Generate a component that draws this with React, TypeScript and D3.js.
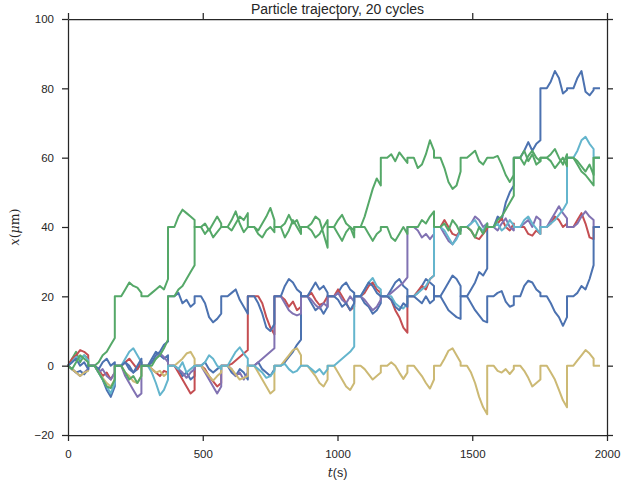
import React, { useEffect, useRef } from "react";
import * as d3 from "d3";

const palette = ["#4C72B0", "#55A868", "#C44E52", "#8172B2", "#CCB974", "#64B5CD"];

// each cycle: free diffusion for 75 s, then the potential holds the particle at a minimum
const cycleStarts = [
  0, 98.7, 197.4, 296.1, 394.8, 493.5, 592.2, 690.9, 789.6, 888.3,
  987, 1085.7, 1184.4, 1283.1, 1381.8, 1480.5, 1579.2, 1677.9, 1776.6, 1875.3,
];
const walkOffsets = [15, 30, 45, 60, 75];
const runEnd = 1974;

const xTicks = [0, 500, 1000, 1500, 2000];
const yTicks = [-20, 0, 20, 40, 60, 80, 100];

// level held after each cycle, and positions read during the diffusion phase
const blueALevels = [0, 0, 0, 0, 0, 0, 0, 0, 20, 20, 20, 20, 20, 20, 20, 40, 60, 80, 80, 80];
const blueAWalk = [
  [-1, -2, -1.5, -2.5, -1], [-2, -4, -7, -9, -6], [1, 0, -2, -1, 1], [2, 4, 3, 2, 3],
  [-1, -3, -2, -4, -3], [1, -1, -2, -1, 0], [-2, -3, -1, -2, -4], [1, -1, -2, -3, -1],
  [1, 2.5, 4, 6, 7.5], [18, 16, 17, 15, 17], [21, 23, 24, 22, 21], [18, 17, 15, 16, 18],
  [22, 24, 25, 23, 22], [21, 23, 25, 24, 23], [22, 24, 26, 25, 23], [22, 24, 27, 26, 28],
  [43, 42, 47, 50, 52], [62, 64.5, 62, 64, 65], [82, 85, 83, 78.5, 79.5], [83, 85, 79, 78, 79.5],
];

const greenALevels = [0, 20, 20, 40, 40, 40, 40, 40, 40, 40, 40, 60, 60, 60, 60, 60, 60, 60, 60, 60];
const greenAWalk = [
  [2, 4, 1, 3, 2], [1, 3, 4, 6, 8], [22, 24, 23, 22.5, 21], [21, 22, 23, 22, 25],
  [43, 45, 44, 43, 42], [41, 39, 41, 43, 41], [42, 44.5, 41, 38.5, 40], [39, 41, 43, 45.5, 42],
  [37, 39, 42, 40, 38], [41, 43, 42, 38, 34], [42, 43.5, 41, 40, 39], [43, 47, 51, 54, 52],
  [61, 59, 61.5, 60, 58.5], [57, 58, 61, 65, 62], [57, 53, 51, 52, 56], [61, 62, 59, 58, 60],
  [60.5, 58, 55, 53, 55], [62, 59, 61, 58, 59], [61, 62.5, 60, 58, 61], [58, 56, 55, 53.5, 52],
];

const redLevels = [0, 0, 0, 0, 0, 0, 20, 20, 20, 20, 20, 20, 20, 40, 40, 40, 40, 40, 40, 40];
const redWalk = [
  [2, 3, 4.5, 4, 3], [-1, -3, -2, -4, -2], [1, 2, 0.5, -1, 1], [-1, -2, -3, -1.5, -2],
  [-2, -4, -6, -8, -7], [-1, -3, -4.5, -6, -5], [0.5, 1.5, 2.5, 3.5, 4.5], [20, 18, 14, 11, 9],
  [19, 17, 18.5, 16, 17], [21, 19, 17.5, 18, 20], [22, 20, 18, 16, 17], [21, 23, 24, 22, 21],
  [19, 16, 14, 11, 9.5], [21.5, 23, 22, 25, 26], [42, 40, 38, 37.5, 39], [39, 37, 36.5, 38, 39.5],
  [41, 42.5, 40, 39, 41], [40, 38, 37.5, 39, 38], [41, 43, 42, 40, 41], [42, 44, 41, 37, 36.5],
];

const purpleLevels = [0, 0, 0, 0, 0, 0, 0, 20, 20, 20, 20, 20, 40, 40, 40, 40, 40, 40, 40, 40];
const purpleWalk = [
  [-1, -2, -3, -2, -1], [-2, -1, -3, -4, -2], [-3, -5, -7, -9, -8], [1, 2, 3.5, 2.5, 1],
  [-1, -2, -3.5, -2, -1], [-2, -4, -6, -8, -6], [-1, -3, -2, -4, -2], [1, 2, 3, 4, 5],
  [18, 16, 15, 14.5, 15], [19, 17.5, 16.5, 18, 17], [21, 19, 18, 20, 18.5], [19, 17.5, 16, 17, 19],
  [21, 22, 23, 24, 25.5], [39, 37, 38, 36.5, 38], [38, 36, 35, 37, 39], [41, 43, 42, 40, 41],
  [39, 41, 42.5, 40, 39], [41, 42, 40, 43, 42], [42, 44, 46, 44, 42.5], [41, 43, 44.5, 43, 42],
];

const goldLevels = [0, 0, 0, 0, 0, 0, 0, 0, 0, 0, 0, 0, 0, 0, 0, 0, 0, 0, 0, 0];
const goldWalk = [
  [-1, -2, -3, -2, -1.5], [-2, -3.5, -5, -6, -4], [-2, -3, -4.5, -5, -3], [-1, -2, -1.5, -3, -2],
  [1, 2, 3.5, 4, 2], [-1.5, -3, -4.3, -3, -2], [-1, -2.5, -4, -3.5, -3], [-2, -4, -6, -8, -7],
  [1.5, 3, 4.5, 5, 3], [-1.5, -3, -5, -6, -4], [-2, -4, -6, -7, -5], [-1, -2.5, -4, -3, -2],
  [1, 0, -2, -3.8, -2], [-1.5, -3, -5, -6.6, -4], [2, 4.3, 5, 3, 1], [-2, -5, -9, -12, -14],
  [-1.5, -2, -1, -2.4, -1], [-1.5, -3.5, -6, -5, -4], [-2, -4, -7, -10, -12], [1.5, 3, 4.5, 3.5, 2],
];

const cyanLevels = [0, 0, 0, 0, 0, 0, 0, 0, 0, 0, 20, 20, 20, 40, 40, 40, 40, 40, 60, 60];
const cyanWalk = [
  [1, 2.5, 2, 3, 1.5], [-2, -4, -6, -8, -5], [2, 4, 5, 3, 1], [-2, -5, -8.5, -7, -4],
  [-1, 1, -2, -1, 0], [1, 3, 2, 0, -1], [2, 4, 5.3, 3.5, 2], [-1, -2, -3.5, -3, -1.5],
  [0.5, -1, -2, -1.5, 0], [-1, -2, -1, -2.5, -1], [1, 2, 3, 4, 5.5], [22, 24, 25.3, 23, 22],
  [20, 18, 17, 16.5, 18], [21, 22, 23, 25, 26], [39, 37, 35, 36.5, 39], [41, 42, 40, 39, 41],
  [41, 39, 40, 42, 40.5], [42, 43, 41, 39.5, 38], [41, 42, 43.5, 45, 47], [62, 65, 66, 64, 62.5],
];

const blueBLevels = [0, 0, 0, 20, 20, 20, 20, 20, 20, 20, 20, 20, 20, 20, 20, 20, 20, 20, 20, 40];
const blueBWalk = [
  [1, 2, 0, 1, -1], [-1, 1, 2, 0, 1], [1, -1, -2, 0, 2], [1, 3, 4, 6, 7],
  [21, 18, 19, 17, 18], [18, 14, 12.5, 13.5, 15], [21, 22, 19, 17, 15], [18, 15, 11, 10, 12],
  [23, 25, 24, 22, 21], [22, 24, 22, 23, 21], [19, 17, 18, 16, 18], [22, 24, 23, 21, 20],
  [19, 17, 16, 18, 17], [19, 18, 20, 18, 19], [18, 16, 15, 14, 13.5], [18, 16, 14.5, 13, 12.5],
  [21, 21.5, 18.5, 17, 17.5], [23, 24.5, 24, 22, 21], [18, 15.5, 14, 11.5, 14], [21, 23, 22, 25, 29],
];

const greenBLevels = [0, 0, 0, 20, 40, 40, 40, 40, 40, 40, 40, 40, 40, 40, 40, 40, 60, 60, 60, 60];
const greenBWalk = [
  [-1, 1, 3, 2, 1], [-2, -4, -6, -6.5, -4], [-2, -4, -3, -5, -3], [0, 2, 3, 5, 7.5],
  [22, 23, 25, 27, 29], [38, 39.5, 37, 38.5, 40], [39, 41, 43, 42, 44], [38, 37, 39, 40, 38.5],
  [41, 43.5, 41, 42, 39], [39, 37, 38, 40, 42], [38, 36, 38.5, 40, 37], [40, 38, 36, 38, 39],
  [37, 36, 38, 40, 38], [40, 42, 41, 43, 44.5], [41, 39, 42, 40.5, 38], [39, 37, 40, 38, 41],
  [42, 43, 45, 47, 49], [58, 60.5, 62, 60, 59], [59, 57, 58.5, 60, 57.5], [59, 57.5, 56, 58, 55],
];

const particles = [
  { color: palette[0], levels: blueALevels, walk: blueAWalk },
  { color: palette[1], levels: greenALevels, walk: greenAWalk },
  { color: palette[2], levels: redLevels, walk: redWalk },
  { color: palette[3], levels: purpleLevels, walk: purpleWalk },
  { color: palette[4], levels: goldLevels, walk: goldWalk },
  { color: palette[5], levels: cyanLevels, walk: cyanWalk },
  { color: palette[0], levels: blueBLevels, walk: blueBWalk },
  { color: palette[1], levels: greenBLevels, walk: greenBWalk },
];

function trajectory(levels: number[], walk: number[][]): [number, number][] {
  const pts: [number, number][] = [];
  cycleStarts.forEach((t0, k) => {
    const start = k === 0 ? 0 : levels[k - 1];
    pts.push([t0, start]);
    walk[k].forEach((v, j) => pts.push([t0 + walkOffsets[j], v]));
    pts.push([t0 + walkOffsets[walkOffsets.length - 1], levels[k]]);
  });
  pts.push([runEnd, levels[levels.length - 1]]);
  return pts;
}

export default function App() {
  const svgRef = useRef<SVGSVGElement | null>(null);

  useEffect(() => {
    const width = 634;
    const height = 484;
    const margin = { top: 19, right: 27, bottom: 49, left: 68 };
    const ink = "#262626";

    d3.select(svgRef.current).selectAll("*").remove();
    const svg = d3.select(svgRef.current).attr("width", width).attr("height", height);

    const x = d3.scaleLinear().domain([0, 2000]).range([margin.left, width - margin.right]);
    const y = d3.scaleLinear().domain([-20, 100]).range([height - margin.bottom, margin.top]);

    svg.append("rect").attr("width", width).attr("height", height).attr("fill", "white");

    const line = d3
      .line<[number, number]>()
      .x((d) => x(d[0]))
      .y((d) => y(d[1]));

    svg
      .append("g")
      .selectAll("path")
      .data(particles)
      .enter()
      .append("path")
      .attr("d", (p) => line(trajectory(p.levels, p.walk)))
      .attr("fill", "none")
      .attr("stroke", (p) => p.color)
      .attr("stroke-width", 2)
      .attr("stroke-linejoin", "round");

    const styleAxis = (g: d3.Selection<SVGGElement, unknown, null, undefined>) => {
      g.selectAll(".domain").attr("stroke", ink).attr("stroke-width", 1.25);
      g.selectAll(".tick line").attr("stroke", ink).attr("stroke-width", 1.25);
      g.selectAll(".tick text")
        .attr("fill", ink)
        .style("font-family", "Arial, 'Liberation Sans', sans-serif")
        .style("font-size", "11.5px");
    };

    const bottom = svg
      .append("g")
      .attr("transform", `translate(0,${y(-20)})`)
      .call(
        d3.axisBottom(x).tickValues(xTicks).tickFormat(d3.format("d")).tickSize(6).tickPadding(9).tickSizeOuter(0)
      );
    styleAxis(bottom);

    const top = svg
      .append("g")
      .attr("transform", `translate(0,${y(100)})`)
      .call(d3.axisTop(x).tickValues(xTicks).tickSize(6).tickFormat(() => "").tickSizeOuter(0));
    styleAxis(top);

    const left = svg
      .append("g")
      .attr("transform", `translate(${x(0)},0)`)
      .call(d3.axisLeft(y).tickValues(yTicks).tickFormat(d3.format("d")).tickSize(6).tickPadding(8).tickSizeOuter(0));
    styleAxis(left);
    left.selectAll(".tick text").text((d) => String(d).replace("-", "\u2212"));

    const right = svg
      .append("g")
      .attr("transform", `translate(${x(2000)},0)`)
      .call(d3.axisRight(y).tickValues(yTicks).tickSize(6).tickFormat(() => "").tickSizeOuter(0));
    styleAxis(right);

    svg
      .append("text")
      .attr("x", (x(0) + x(2000)) / 2)
      .attr("y", 14)
      .attr("text-anchor", "middle")
      .attr("fill", ink)
      .style("font-family", "Arial, 'Liberation Sans', sans-serif")
      .style("font-size", "14px")
      .text("Particle trajectory, 20 cycles");

    const xl = svg
      .append("text")
      .attr("x", (x(0) + x(2000)) / 2)
      .attr("y", 477)
      .attr("text-anchor", "middle")
      .attr("fill", ink)
      .style("font-family", "Arial, 'Liberation Sans', sans-serif")
      .style("font-size", "12.5px");
    xl.append("tspan").style("font-family", "'DejaVu Serif', serif").style("font-style", "italic").text("t");
    xl.append("tspan").text("(s)");

    const yl = svg
      .append("text")
      .attr("transform", `translate(19,${(y(-20) + y(100)) / 2}) rotate(-90)`)
      .attr("text-anchor", "middle")
      .attr("fill", ink)
      .style("font-family", "'DejaVu Serif', serif")
      .style("font-size", "12.5px");
    yl.append("tspan").style("font-style", "italic").text("x");
    yl.append("tspan").text("(");
    yl.append("tspan").style("font-style", "italic").text("\u03bc");
    yl.append("tspan").text("m)");
  }, []);

  return (
    <svg
      ref={svgRef}
      style={{ position: "absolute", left: 0, top: 0, display: "block" }}
    ></svg>
  );
}
